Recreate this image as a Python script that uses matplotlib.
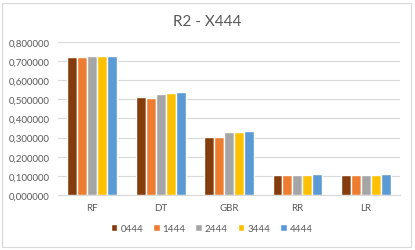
import numpy as np
import matplotlib
matplotlib.use('Agg')
import matplotlib.pyplot as plt
from matplotlib.ticker import FuncFormatter
from matplotlib.patches import Rectangle

plt.rcParams['font.family'] = ['Lato', 'DejaVu Sans']

# data
models = ['RF', 'DT', 'GBR', 'RR', 'LR']
series = ['0444', '1444', '2444', '3444', '4444']
v0444 = [0.720, 0.513, 0.305, 0.105, 0.105]
v1444 = [0.719, 0.508, 0.305, 0.105, 0.105]
v2444 = [0.728, 0.530, 0.327, 0.105, 0.105]
v3444 = [0.728, 0.535, 0.327, 0.105, 0.105]
v4444 = [0.729, 0.537, 0.332, 0.109, 0.109]
values = [v0444, v1444, v2444, v3444, v4444]
colors = ['#843C0C', '#ED7D31', '#A5A5A5', '#FFC000', '#5B9BD5']

fig = plt.figure(figsize=(4.15, 2.51), dpi=100)
ax = fig.add_axes([0.14, 0.219, 0.824, 0.61])

x = np.arange(len(models))
w = 0.146
for i, (name, vals) in enumerate(zip(series, values)):
    ax.bar(x + (i - 2) * w, vals, w, color=colors[i], edgecolor='white',
           linewidth=1.0, label=name, zorder=3)

ax.set_ylim(0, 0.8)
ax.set_xlim(-0.5, 4.5)
ax.set_yticks(np.arange(0, 0.81, 0.1))
ax.yaxis.set_major_formatter(FuncFormatter(lambda v, p: f'{v:.6f}'.replace('.', ',')))
ax.grid(axis='y', color='#D9D9D9', linewidth=0.8, zorder=0)
ax.set_xticks(x)
ax.set_xticklabels(models)
ax.tick_params(axis='both', length=0, labelsize=7, colors='#595959', pad=6)
for s in ['top', 'right', 'left']:
    ax.spines[s].set_visible(False)
ax.spines['bottom'].set_color('#D9D9D9')

fig.text(0.5, 0.912, 'R2 - X444', ha='center', va='center', fontsize=11, color='#595959')

leg = fig.legend(loc='center', bbox_to_anchor=(0.51, 0.085), ncol=5, frameon=False,
                 fontsize=7, handlelength=0.7, handleheight=0.7, handletextpad=0.3,
                 columnspacing=1.0)
for t in leg.get_texts():
    t.set_color('#595959')

fig.patches.append(Rectangle((0.005, 0.01), 0.985, 0.975, transform=fig.transFigure,
                             fill=False, edgecolor='#D9D9D9', linewidth=0.8))

fig.savefig('out.png', dpi=100)
